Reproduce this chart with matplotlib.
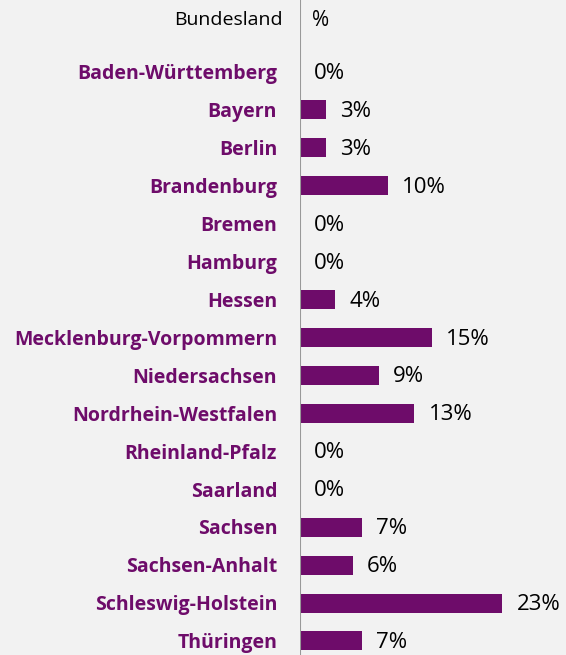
import matplotlib.pyplot as plt

# Anteil je Bundesland
laender = ['Baden-Württemberg', 'Bayern', 'Berlin', 'Brandenburg', 'Bremen',
           'Hamburg', 'Hessen', 'Mecklenburg-Vorpommern', 'Niedersachsen',
           'Nordrhein-Westfalen', 'Rheinland-Pfalz', 'Saarland', 'Sachsen',
           'Sachsen-Anhalt', 'Schleswig-Holstein', 'Thüringen']
werte = [0, 3, 3, 10, 0, 0, 4, 15, 9, 13, 0, 0, 7, 6, 23, 7]

bg = '#f2f2f2'
lila = '#6e0c6a'

W, H = 566, 655
fig = plt.figure(figsize=(W / 100, H / 100), dpi=100, facecolor=bg)
x0 = 300
ax = fig.add_axes([x0 / W, 0, (W - x0) / W, 1])
ax.set_facecolor(bg)

px_per_pct = 8.8
row = 37.93
ax.set_xlim(0, (W - x0) / px_per_pct)
ax.set_ylim(15 + (H - 72 - 15 * row) / row, -72 / row)

ypos = list(range(len(laender)))
ax.barh(ypos, werte, height=0.5, color=lila, left=0)

for y, name, v in zip(ypos, laender, werte):
    ax.text(-2.6, y + 0.06, name, ha='right', va='center', color=lila,
            fontsize=14, fontweight='bold', family='Open Sans')
    ax.text(v + 1.6, y + 0.04, f'{v}%', ha='left', va='center',
            color='black', fontsize=16, family='Open Sans')

ax.text(-2.0, -1.36, 'Bundesland', ha='right', va='center', fontsize=14,
        family='Open Sans', color='black')
ax.text(1.4, -1.36, '%', ha='left', va='center', fontsize=15,
        family='Open Sans', color='black')

ax.axvline(0, color='#999999', lw=1.5)
ax.axis('off')
for t in ax.texts:
    t.set_clip_on(False)

fig.savefig('out.png', dpi=100, facecolor=bg)
